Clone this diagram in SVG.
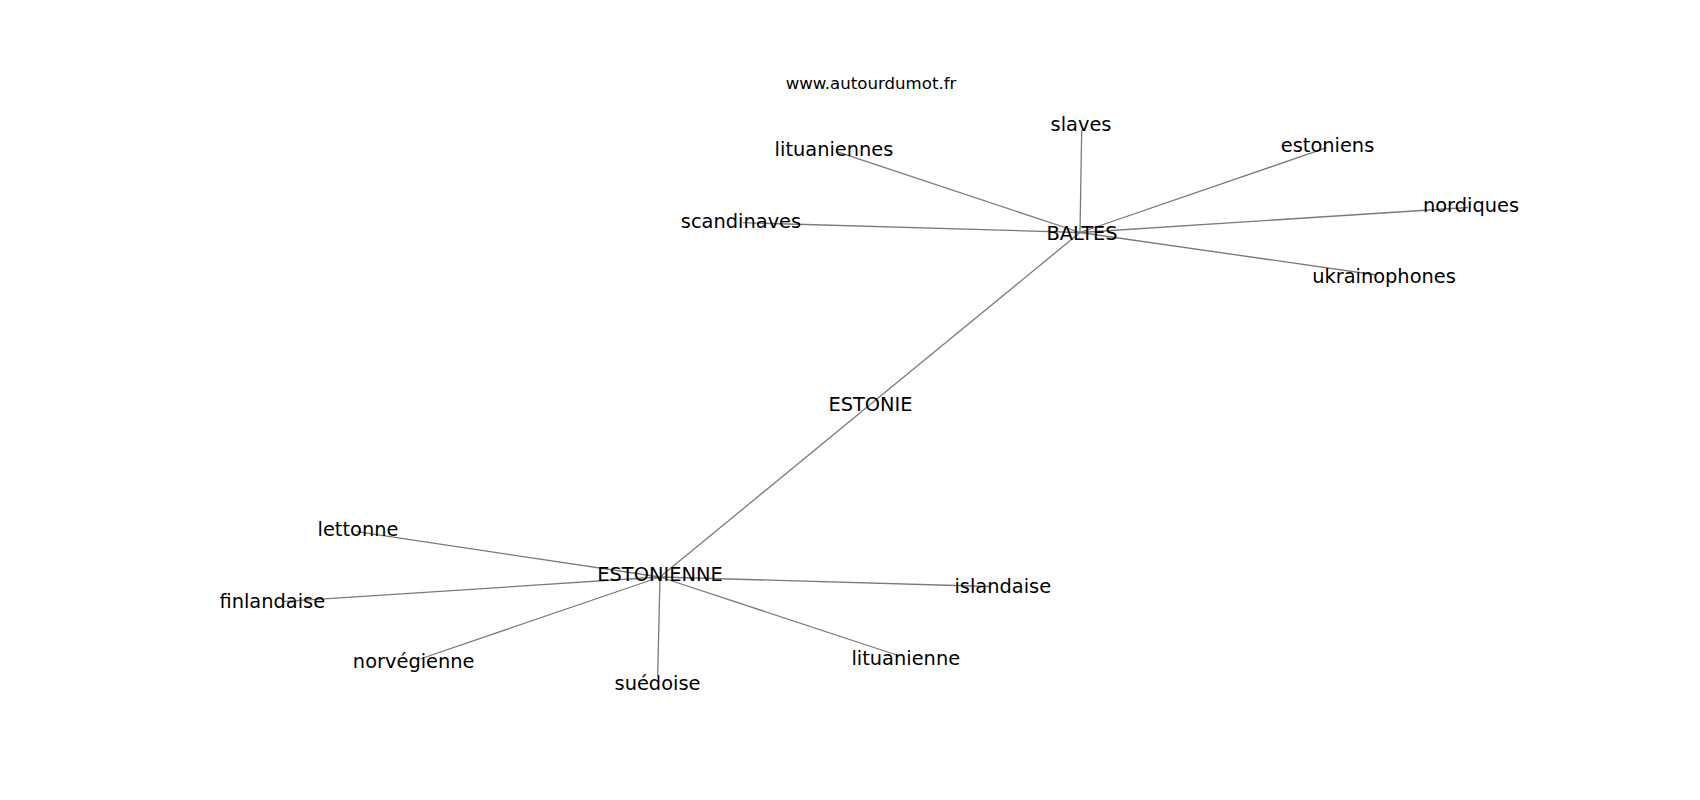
<svg xmlns="http://www.w3.org/2000/svg" width="1700" height="800" viewBox="0 0 1700 800">
<style>
.e{stroke:#7a7a7a;stroke-width:1.3;fill:none}
.l{font-family:"DejaVu Sans","Liberation Sans",sans-serif;font-size:19.4px;fill:#000;text-anchor:middle}
.t{font-family:"DejaVu Sans","Liberation Sans",sans-serif;font-size:16.6px;fill:#000;text-anchor:middle}
</style>
<rect width="1700" height="800" fill="#fff"/>
<g id="edges">
<line class="e" x1="1080" y1="232.5" x2="1081.7" y2="130"/>
<line class="e" x1="1080" y1="232.5" x2="836.7" y2="151.7"/>
<line class="e" x1="1080" y1="232.5" x2="743" y2="222.7"/>
<line class="e" x1="1080" y1="232.5" x2="1326.7" y2="147.7"/>
<line class="e" x1="1080" y1="232.5" x2="1468" y2="207.5"/>
<line class="e" x1="1080" y1="232.5" x2="1376.7" y2="275"/>
<line class="e" x1="1080" y1="232.5" x2="870.5" y2="404.3"/>
<line class="e" x1="870.5" y1="404.3" x2="660" y2="577"/>
<line class="e" x1="660" y1="577" x2="356.7" y2="531.7"/>
<line class="e" x1="660" y1="577" x2="281.7" y2="601.7"/>
<line class="e" x1="660" y1="577" x2="420" y2="659"/>
<line class="e" x1="660" y1="577" x2="657.7" y2="675"/>
<line class="e" x1="660" y1="577" x2="896.7" y2="655"/>
<line class="e" x1="660" y1="577" x2="990" y2="586.5"/>
</g>
<g id="title"><text class="t" x="871" y="89">www.autourdumot.fr</text></g>
<g id="n-baltes"><text class="l" x="1082" y="240">BALTES</text></g>
<g id="n-slaves"><text class="l" x="1081" y="131">slaves</text></g>
<g id="n-lituaniennes"><text class="l" x="834" y="156">lituaniennes</text></g>
<g id="n-scandinaves"><text class="l" x="741" y="227.5">scandinaves</text></g>
<g id="n-estoniens"><text class="l" x="1327.5" y="152">estoniens</text></g>
<g id="n-nordiques"><text class="l" x="1471" y="211.5">nordiques</text></g>
<g id="n-ukrainophones"><text class="l" x="1384" y="283">ukrainophones</text></g>
<g id="n-estonie"><text class="l" x="870.5" y="411">ESTONIE</text></g>
<g id="n-estonienne"><text class="l" x="660" y="581">ESTONIENNE</text></g>
<g id="n-lettonne"><text class="l" x="358" y="536">lettonne</text></g>
<g id="n-finlandaise"><text class="l" x="272.3" y="608">finlandaise</text></g>
<g id="n-norvegienne"><text class="l" x="413.7" y="668">norvégienne</text></g>
<g id="n-suedoise"><text class="l" x="657.5" y="690">suédoise</text></g>
<g id="n-lituanienne"><text class="l" x="905.8" y="665">lituanienne</text></g>
<g id="n-islandaise"><text class="l" x="1002.8" y="593">islandaise</text></g>
</svg>
